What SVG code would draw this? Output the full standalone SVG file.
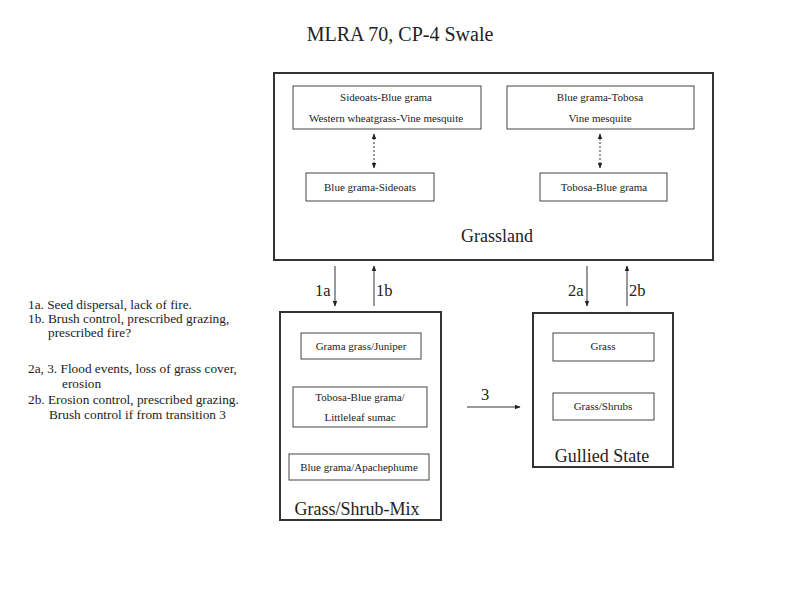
<svg xmlns="http://www.w3.org/2000/svg" width="800" height="600" viewBox="0 0 800 600">
<defs>
<style>
.state{fill:#fff;stroke:#333;stroke-width:2}
.comm{fill:#fff;stroke:#444;stroke-width:1}
text{font-family:"Liberation Serif","Times New Roman",serif;fill:#222}
.t{font-size:11px;text-anchor:middle}
.big{font-size:18px;text-anchor:middle}
.lbl{font-size:16.5px}
.note{font-size:13.3px}
.arr{stroke:#333;stroke-width:1;fill:none}
.dot{stroke:#333;stroke-width:1;stroke-dasharray:2,2;fill:none}
</style>
<marker id="ah" viewBox="0 0 10 10" refX="9" refY="5" markerWidth="6" markerHeight="6" orient="auto-start-reverse">
<path d="M0,1 L10,5 L0,9 z" fill="#222"/>
</marker>
</defs>
<rect width="800" height="600" fill="#fff"/>
<text x="400" y="41" style="font-size:20px;text-anchor:middle">MLRA 70, CP-4 Swale</text>

<g id="grassland">
<rect class="state" x="274" y="73" width="439" height="187"/>
<text class="big" x="497" y="242">Grassland</text>
</g>
<g id="sideoats-blue">
<rect class="comm" x="293" y="86" width="188" height="43"/>
<text class="t" x="386" y="101">Sideoats-Blue grama</text>
<text class="t" x="386" y="122">Western wheatgrass-Vine mesquite</text>
</g>
<g id="blue-sideoats">
<rect class="comm" x="306" y="173" width="128" height="28"/>
<text class="t" x="370" y="191">Blue grama-Sideoats</text>
</g>
<g id="blue-tobosa">
<rect class="comm" x="507" y="86" width="187" height="43"/>
<text class="t" x="600" y="101">Blue grama-Tobosa</text>
<text class="t" x="600" y="122">Vine mesquite</text>
</g>
<g id="tobosa-blue">
<rect class="comm" x="540" y="173" width="127" height="28"/>
<text class="t" x="604" y="191">Tobosa-Blue grama</text>
</g>

<g id="grass-shrub-mix">
<rect class="state" x="280" y="312" width="161" height="208"/>
<text class="big" x="357" y="515">Grass/Shrub-Mix</text>
</g>
<g id="grama-juniper">
<rect class="comm" x="301" y="333" width="120" height="26"/>
<text class="t" x="361" y="350">Grama grass/Juniper</text>
</g>
<g id="tobosa-sumac">
<rect class="comm" x="293" y="387" width="134" height="40"/>
<text class="t" x="360" y="401">Tobosa-Blue grama/</text>
<text class="t" x="360" y="421">Littleleaf sumac</text>
</g>
<g id="blue-apache">
<rect class="comm" x="289" y="454" width="140" height="26"/>
<text class="t" x="359" y="471">Blue grama/Apachephume</text>
</g>

<g id="gullied">
<rect class="state" x="533" y="313" width="140" height="154"/>
<text class="big" x="602" y="462">Gullied State</text>
</g>
<g id="grass">
<rect class="comm" x="553" y="333" width="101" height="28"/>
<text class="t" x="603" y="350">Grass</text>
</g>
<g id="grass-shrubs">
<rect class="comm" x="553" y="393" width="101" height="27"/>
<text class="t" x="603" y="410">Grass/Shrubs</text>
</g>

<g id="connectors">
<line class="dot" x1="374" y1="134" x2="374" y2="168" marker-start="url(#ah)" marker-end="url(#ah)"/>
<line class="dot" x1="600" y1="134" x2="600" y2="168" marker-start="url(#ah)" marker-end="url(#ah)"/>
<line class="arr" x1="335" y1="266" x2="335" y2="306" marker-end="url(#ah)"/>
<line class="arr" x1="374" y1="306" x2="374" y2="266" marker-end="url(#ah)"/>
<line class="arr" x1="587" y1="266" x2="587" y2="306" marker-end="url(#ah)"/>
<line class="arr" x1="627" y1="306" x2="627" y2="266" marker-end="url(#ah)"/>
<line class="arr" x1="467" y1="407" x2="520" y2="407" marker-end="url(#ah)"/>
<text class="lbl" x="315" y="296">1a</text>
<text class="lbl" x="376" y="296">1b</text>
<text class="lbl" x="568" y="296">2a</text>
<text class="lbl" x="629" y="296">2b</text>
<text class="lbl" x="481" y="400">3</text>
</g>

<g id="notes" class="note">
<text class="note" x="28" y="309">1a. Seed dispersal, lack of fire.</text>
<text class="note" x="28" y="323">1b. Brush control, prescribed grazing,</text>
<text class="note" x="48" y="337">prescribed fire?</text>
<text class="note" x="28" y="373">2a, 3. Flood events, loss of grass cover,</text>
<text class="note" x="62" y="388">erosion</text>
<text class="note" x="28" y="404">2b. Erosion control, prescribed grazing.</text>
<text class="note" x="49" y="419">Brush control if from transition 3</text>
</g>
</svg>
